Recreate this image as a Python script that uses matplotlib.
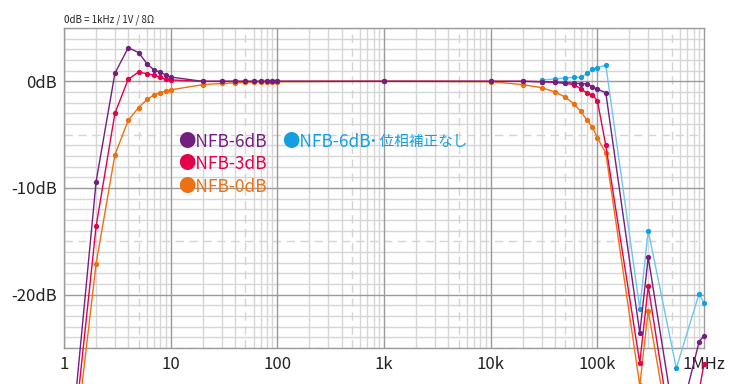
import matplotlib
matplotlib.use("Agg")
import matplotlib.pyplot as plt
import numpy as np

plt.rcParams['font.family'] = ['Noto Sans CJK JP', 'DejaVu Sans']

# frequency points (Hz)
freq_nfb = [1, 2, 3, 4, 5, 6, 7, 8, 9, 10, 20, 30, 40, 50, 60, 70, 80, 90, 100,
            1000, 10000, 20000, 30000, 40000, 50000, 60000, 70000, 80000, 90000,
            100000, 120000, 250000, 300000, 550000, 900000, 1000000]
freq_nocomp = [30000, 40000, 50000, 60000, 70000, 80000, 90000, 100000, 120000,
               250000, 300000, 550000, 900000, 1000000]

# response in dB
nfb6 = [-41, -9.4, 0.75, 3.15, 2.7, 1.65, 1.05, 0.87, 0.57, 0.4,
        0.0, 0.0, 0.0, 0.0, 0.0, 0.0, 0.0, 0.0, 0.0,
        0.0, 0.0, 0.0, -0.03, -0.06, -0.12, -0.16, -0.21, -0.25, -0.5,
        -0.75, -1.06, -23.6, -16.5, -33.0, -24.4, -23.85]
nfb3 = [-42, -13.6, -3.0, 0.2, 0.87, 0.72, 0.56, 0.4, 0.19, 0.13,
        0.0, 0.0, 0.0, 0.0, 0.0, 0.0, 0.0, 0.0, 0.0,
        0.0, 0.0, 0.0, -0.03, -0.1, -0.2, -0.3, -0.7, -1.1, -1.3,
        -1.8, -6.0, -26.4, -19.2, -36.0, -29.0, -26.5]
nfb0 = [-43, -17.1, -6.9, -3.65, -2.47, -1.7, -1.28, -1.06, -0.92, -0.8,
        -0.31, -0.2, -0.15, -0.1, -0.08, -0.06, -0.05, -0.04, -0.03,
        0.0, -0.03, -0.31, -0.59, -1.0, -1.47, -2.1, -2.8, -3.66, -4.29,
        -5.3, -6.7, -28.5, -21.5, -36.8, -31.0, -30.5]
nocomp = [0.13, 0.22, 0.31, 0.38, 0.4, 0.75, 1.13, 1.28, 1.53,
          -21.3, -14.0, -26.9, -19.9, -20.8]

purple = '#731f80'
red = '#e5004a'
orange = '#ef7010'
blue = '#14a0e0'
blue_line = '#6cc6ef'

fig = plt.figure(figsize=(7.4, 3.84), dpi=100)
ax = fig.add_axes([64 / 740, 1 - 348 / 384, 640 / 740, 320 / 384])
ax.set_xscale('log')
ax.set_xlim(1, 1e6)
ax.set_ylim(-25, 5)

# grid
for db in range(-25, 6):
    if db % 10 == 0:
        ax.axhline(db, color='#9a9a9a', lw=1.0, zorder=1)
    elif db % 5 == 0:
        ax.axhline(db, color='#d4d4d4', lw=1.0, ls=(0, (6, 4)), zorder=0)
    else:
        ax.axhline(db, color='#d6d6d6', lw=1.0, zorder=0)
for dec in range(6):
    for m in range(1, 10):
        f = m * 10 ** dec
        if m == 1:
            ax.axvline(f, color='#9a9a9a', lw=1.0, zorder=1)
        elif m == 5:
            ax.axvline(f, color='#d4d4d4', lw=1.0, ls=(0, (6, 4)), zorder=0)
        else:
            ax.axvline(f, color='#d6d6d6', lw=1.0, zorder=0)
for s in ax.spines.values():
    s.set_color('#9a9a9a')
    s.set_linewidth(1.0)

kw = dict(lw=1.0, marker='o', ms=2.8, clip_on=False, zorder=3)
ax.plot(freq_nocomp, nocomp, color=blue_line, mfc=blue, mec=blue, **kw)
ax.plot(freq_nfb, nfb0, color=orange, **kw)
ax.plot(freq_nfb, nfb3, color=red, **kw)
ax.plot(freq_nfb, nfb6, color=purple, **kw)

ax.set_xticks([1, 10, 100, 1e3, 1e4, 1e5, 1e6])
ax.set_xticklabels(['1', '10', '100', '1k', '10k', '100k', '1MHz'])
ax.set_xticks([], minor=True)
ax.set_yticks([0, -10, -20])
ax.set_yticklabels(['0dB', '-10dB', '-20dB'])
ax.set_yticks([], minor=True)
ax.tick_params(length=0, labelsize=12, colors='#222222', pad=6)
ax.tick_params(axis='y', pad=5)

fig.text(64 / 740, 1 - 20 / 384, '0dB = 1kHz / 1V / 8Ω', fontsize=7,
         va='center', ha='left', color='#222222')

legend = [('●NFB-6dB', purple, 178, 142), ('●NFB-3dB', red, 178, 164),
          ('●NFB-0dB', orange, 178, 187), ('●NFB-6dB', blue, 282, 142)]
for txt, c, x, y in legend:
    fig.text(x / 740, 1 - y / 384, txt, color=c, fontsize=12.5, va='center',
             ha='left', zorder=5)
fig.text(365 / 740, 1 - 142 / 384, '・位相補正なし', color=blue, fontsize=10.5,
         va='center', ha='left', zorder=5)

fig.savefig('out.png', dpi=100)
